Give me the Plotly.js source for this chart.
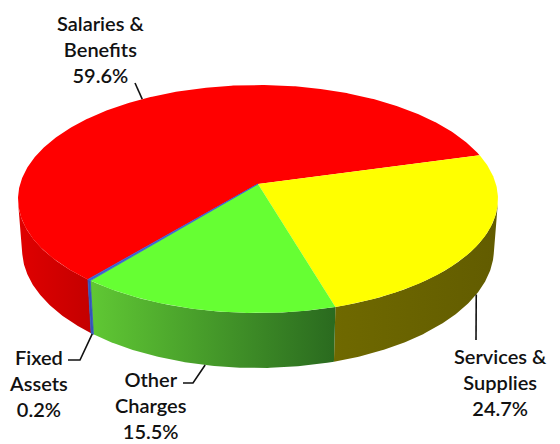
<!DOCTYPE html>
<html>
<head>
<meta charset="utf-8">
<script src="https://cdn.plot.ly/plotly-3.0.1.min.js"></script>
<style>html,body{margin:0;padding:0;background:#fff;}#chart{width:560px;height:444px;}</style>
</head>
<body>
<div id="chart"></div>
<script>
// ---------------- data ----------------
const categories = ['Salaries & Benefits', 'Services & Supplies', 'Other Charges', 'Fixed Assets'];
const labelLines = [['Salaries &', 'Benefits'], ['Services &', 'Supplies'], ['Other', 'Charges'], ['Fixed', 'Assets']];
const percents = [59.6, 24.7, 15.5, 0.2];

// ---------------- styles ----------------
const topColors = ['#ff0000', '#ffff00', '#66ff33', '#3d5fd0'];
const sideColors = [['#e00000', '#c40000'], ['#6f6900', '#625c00'], ['#60c834', '#2a6a1f'], ['#3355bb', '#3355bb']];
const rotationDeg = 220;           // angle of first slice (clockwise from 12 o'clock)
const view = {cx: 258, cy: 184, k: 237.9, D: 6.7, phiDeg: 28.1, depth: 0.2424};
// label placement (layout) and leader elbows
const labelPos = [[100, 49], [500, 382], [151, 405], [38, 383]];
const leaderBend = [[[135, 83]], [[476, 340]], [[193, 383], [183, 383]], [[80, 360], [68, 360]]];
const leaderOnTop = [true, false, false, false];

// ---------------- projection ----------------
const phi = view.phiDeg * Math.PI / 180;
const sp = Math.sin(phi), cp = Math.cos(phi);
const F = view.k * view.D;
function proj(thDeg, z) {
  const t = thDeg * Math.PI / 180;
  const x = Math.cos(t), y = Math.sin(t);
  const up = y * sp + z * cp;
  const dep = view.D + y * cp - z * sp;
  return [view.cx + F * x / dep, view.cy - F * up / dep];
}
function arc(a, b, z) { // from angle a to angle b (deg)
  const n = Math.max(2, Math.ceil(Math.abs(b - a) / 0.5));
  const pts = [];
  for (let i = 0; i <= n; i++) pts.push(proj(a + (b - a) * i / n, z));
  return pts;
}

const total = percents.reduce((s, v) => s + v, 0);
const slices = [];
let cur = 90 - rotationDeg;
percents.forEach((p, i) => {
  const span = p / total * 360;
  slices.push({start: cur, end: cur - span, mid: cur - span / 2});
  cur -= span;
});

// visible range of outer wall
const s0 = Math.asin(1 / (view.D * cp)) * 180 / Math.PI;
const visLo = -180 + s0, visHi = -s0;

const traces = [];
// side walls
slices.forEach((s, i) => {
  const lo = s.end, hi = s.start;
  for (let m = -2; m <= 2; m++) {
    const a = Math.max(lo + 360 * m, visLo), b = Math.min(hi + 360 * m, visHi);
    if (b > a) {
      const top = arc(b, a, 0);
      const bot = arc(a, b, -view.depth);
      const pts = top.concat(bot);
      pts.push(pts[0]);
      const xs = pts.map(q => q[0]), ys = pts.map(q => q[1]);
      traces.push({
        type: 'scatter', mode: 'lines', x: xs, y: ys, fill: 'toself',
        fillcolor: sideColors[i][0],
        fillgradient: {type: 'horizontal', colorscale: [[0, sideColors[i][0]], [1, sideColors[i][1]]],
                       start: Math.min(...xs), stop: Math.max(...xs)},
        line: {width: i === 3 ? 0.8 : 0, color: sideColors[i][0]},
        hoverinfo: 'skip', showlegend: false
      });
    }
  }
});
// top faces
const center = [view.cx, view.cy];
slices.forEach((s, i) => {
  const pts = [center].concat(arc(s.start, s.end, 0));
  pts.push(center);
  traces.push({
    type: 'scatter', mode: 'lines', x: pts.map(q => q[0]), y: pts.map(q => q[1]),
    fill: 'toself', fillcolor: topColors[i],
    line: {width: i === 3 ? 0.8 : 0, color: topColors[i]},
    hoverinfo: 'skip', showlegend: false, name: categories[i]
  });
});
// leader lines
slices.forEach((s, i) => {
  const a = proj(s.mid, leaderOnTop[i] ? 0 : -view.depth);
  const pts = [a].concat(leaderBend[i]);
  traces.push({
    type: 'scatter', mode: 'lines', x: pts.map(q => q[0]), y: pts.map(q => q[1]),
    line: {width: 1.6, color: '#111'}, hoverinfo: 'skip', showlegend: false
  });
});

const annotations = percents.map((p, i) => ({
  xref: 'x', yref: 'y', x: labelPos[i][0], y: labelPos[i][1],
  text: labelLines[i].join('<br>') + '<br>' + p.toFixed(1) + '%',
  showarrow: false, xanchor: 'center', yanchor: 'middle', align: 'center',
  font: {family: 'Lato, "Open Sans", sans-serif', size: 20, color: '#111', weight: 600}
}));

const layout = {
  width: 560, height: 444,
  margin: {l: 0, r: 0, t: 0, b: 0},
  paper_bgcolor: '#ffffff', plot_bgcolor: '#ffffff',
  xaxis: {range: [0, 560], visible: false, fixedrange: true},
  yaxis: {range: [444, 0], visible: false, fixedrange: true},
  annotations: annotations,
  showlegend: false
};
Plotly.newPlot('chart', traces, layout, {staticPlot: true, displayModeBar: false});
</script>
</body>
</html>
